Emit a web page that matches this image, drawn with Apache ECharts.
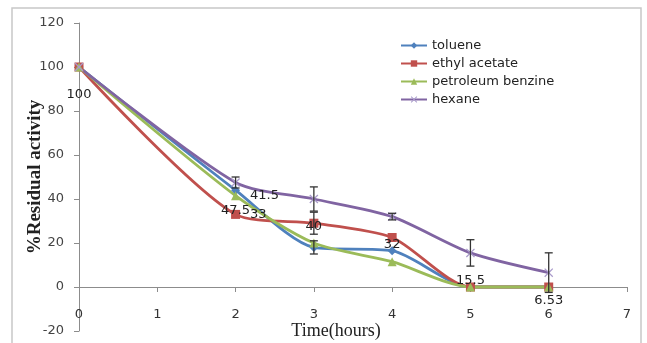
<!DOCTYPE html>
<html>
<head>
<meta charset="utf-8">
<script src="https://cdn.jsdelivr.net/npm/echarts@6/dist/echarts.min.js"></script>
<style>
  html, body { margin: 0; padding: 0; background: #fff; }
  #main { width: 647px; height: 343px; }
</style>
</head>
<body>
<div id="main"></div>
<script>
// 时间点 (hours)
var hours = [0, 2, 3, 4, 5, 6];
// residual activity (%)
var toluene = [100, 44, 18, 16.5, 0, 0];
var ethylAcetate = [100, 33, 29, 22.5, 0, 0];
var petroleumBenzine = [100, 41.5, 20, 11.5, 0, 0];
var hexane = [100, 47.5, 40, 32, 15.5, 6.53];
// error bars (+/-)
var tolueneErr = [0, 0, 3, 0, 0, 0];
var ethylErr = [0, 0, 5, 0, 0, 0];
var hexaneErr = [0, 2.5, 5.5, 1.5, 6, 9];
// data labels shown in the figure
var hexaneLabels = ["100", "47.5", "40", "32", "15.5", "6.53"];
var ethylLabels = ["", "33", "", "", "", ""];
var petroleumLabels = ["", "41.5", "", "", "", ""];
var yTicks = [-20, 0, 20, 40, 60, 80, 100, 120];
var xTicks = [0, 1, 2, 3, 4, 5, 6, 7];

var myChart = echarts.init(document.getElementById("main"));

function pairs(vals, labels, pos, dist) {
  return hours.map(function (h, i) {
    var item = { value: [h, vals[i]] };
    if (labels && labels[i]) {
      item.label = {
        show: true,
        formatter: labels[i],
        position: pos,
        distance: dist,
        color: "#222",
        fontSize: 13,
        fontFamily: "DejaVu Sans"
      };
    }
    return item;
  });
}

function errData(vals, errs) {
  var out = [];
  hours.forEach(function (h, i) {
    if (errs[i] > 0) out.push([h, vals[i], errs[i]]);
  });
  return out;
}

function renderErr(params, api) {
  var x = api.value(0), y = api.value(1), e = api.value(2);
  var hi = api.coord([x, y + e]);
  var lo = api.coord([x, y - e]);
  var w = 4;
  var style = { stroke: "#333", lineWidth: 1.3 };
  return {
    type: "group",
    children: [
      { type: "line", shape: { x1: hi[0], y1: hi[1], x2: lo[0], y2: lo[1] }, style: style },
      { type: "line", shape: { x1: hi[0] - w, y1: hi[1], x2: hi[0] + w, y2: hi[1] }, style: style },
      { type: "line", shape: { x1: lo[0] - w, y1: lo[1], x2: lo[0] + w, y2: lo[1] }, style: style }
    ]
  };
}

var crossSymbol = "path://M1,0 L5,4 L9,0 L10,1 L6,5 L10,9 L9,10 L5,6 L1,10 L0,9 L4,5 L0,1 Z";

var option = {
  animation: false,
  color: ["#4F81BD", "#C0504D", "#9BBB59", "#8064A2"],
  graphic: [
    {
      type: "rect",
      shape: { x: 12, y: 8, width: 629, height: 340 },
      style: { fill: "none", stroke: "#c8c8c8", lineWidth: 1.5 },
      silent: true
    }
  ],
  legend: {
    orient: "vertical",
    left: 395,
    top: 34,
    itemGap: 5,
    itemWidth: 26,
    itemHeight: 8,
    textStyle: { color: "#222", fontSize: 13, fontFamily: "DejaVu Sans" },
    data: ["toluene", "ethyl acetate", "petroleum benzine", "hexane"]
  },
  grid: { left: 79, right: 20, top: 23, bottom: 12, outerBoundsMode: "none", containLabel: false },
  xAxis: {
    type: "value",
    min: 0,
    max: 7,
    interval: 1,
    name: "Time(hours)",
    nameLocation: "middle",
    nameGap: -9,
    nameMoveOverlap: false,
    nameTextStyle: {
      fontFamily: "Liberation Serif",
      fontSize: 18,
      color: "#222",
      padding: [0, 34, 0, 0]
    },
    axisLine: { onZero: true, lineStyle: { color: "#8c8c8c", width: 1 } },
    axisTick: { show: true, inside: false, length: 5, lineStyle: { color: "#8c8c8c" } },
    axisLabel: {
      margin: -23,
      color: "#333",
      fontSize: 13,
      fontFamily: "DejaVu Sans",
      formatter: function (v) { return xTicks.indexOf(v) >= 0 ? String(v) : ""; }
    },
    splitLine: { show: false }
  },
  yAxis: {
    type: "value",
    min: yTicks[0],
    max: yTicks[yTicks.length - 1],
    interval: 20,
    name: "%Residual activity",
    nameLocation: "middle",
    nameGap: 34,
    nameMoveOverlap: false,
    nameTextStyle: {
      fontFamily: "Liberation Serif",
      fontWeight: "bold",
      fontSize: 19,
      color: "#222"
    },
    axisLine: { show: true, lineStyle: { color: "#8c8c8c", width: 1 } },
    axisTick: { show: true, length: 5, lineStyle: { color: "#8c8c8c" } },
    axisLabel: { margin: 15, color: "#444", fontSize: 13, fontFamily: "DejaVu Sans" },
    splitLine: { show: false }
  },
  series: [
    {
      name: "toluene",
      type: "line",
      smooth: 0.25,
      symbol: "diamond",
      symbolSize: 9,
      lineStyle: { width: 2.8 },
      data: pairs(toluene)
    },
    {
      name: "ethyl acetate",
      type: "line",
      smooth: 0.25,
      symbol: "rect",
      symbolSize: 9,
      lineStyle: { width: 2.8 },
      data: pairs(ethylAcetate, ethylLabels, "right", 10)
    },
    {
      name: "petroleum benzine",
      type: "line",
      smooth: 0.25,
      symbol: "triangle",
      symbolSize: 9,
      lineStyle: { width: 2.8 },
      data: pairs(petroleumBenzine, petroleumLabels, "right", 10)
    },
    {
      name: "hexane",
      type: "line",
      smooth: 0.25,
      symbol: crossSymbol,
      symbolSize: 9,
      itemStyle: { color: "#A99BCB" },
      lineStyle: { width: 2.8, color: "#8064A2" },
      data: pairs(hexane, hexaneLabels, "bottom", 17)
    },
    {
      type: "custom",
      renderItem: renderErr,
      data: errData(toluene, tolueneErr),
      z: 5
    },
    {
      type: "custom",
      renderItem: renderErr,
      data: errData(ethylAcetate, ethylErr),
      z: 5
    },
    {
      type: "custom",
      renderItem: renderErr,
      data: errData(hexane, hexaneErr),
      z: 5
    }
  ]
};

myChart.setOption(option);
</script>
</body>
</html>
